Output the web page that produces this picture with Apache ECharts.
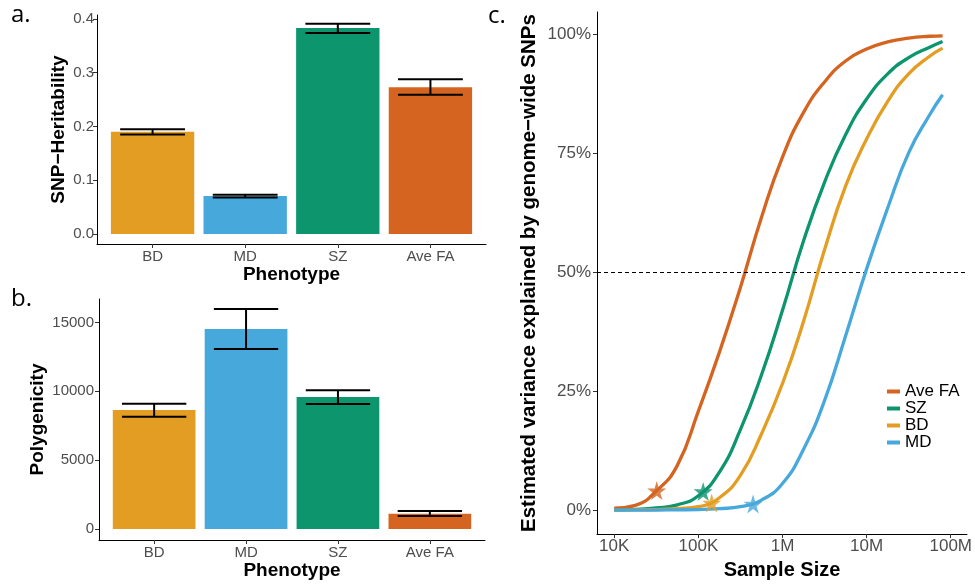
<!DOCTYPE html>
<html>
<head>
<meta charset="utf-8">
<script src="https://cdn.jsdelivr.net/npm/echarts@6/dist/echarts.min.js"></script>
<style>
html, body { margin: 0; padding: 0; background: #fff; }
#main { width: 975px; height: 585px; }
</style>
</head>
<body>
<div id="main"></div>
<script>
// panel a / b data
var phenotypes = ['BD', 'MD', 'SZ', 'Ave FA'];
var barColors = ['#E39D22', '#47A8DB', '#0D956E', '#D46420'];
var heritability = [0.190, 0.0705, 0.383, 0.273];
var heritLow = [0.185, 0.068, 0.374, 0.259];
var heritHigh = [0.195, 0.073, 0.391, 0.288];
var polygenicity = [8645, 14515, 9587, 1109];
var polyLow = [8160, 13065, 9080, 942];
var polyHigh = [9100, 15965, 10070, 1304];

// panel c data (sample size vs % variance explained)
var sampleSize = [10000, 17800, 31600, 56200, 100000, 178000, 316000, 562000, 1000000,
                  1780000, 3160000, 5620000, 10000000, 17800000, 31600000, 56200000, 80000000];
var curveNames = ['Ave FA', 'SZ', 'BD', 'MD'];
var curveColors = ['#D46420', '#0D956E', '#E39D22', '#47A8DB'];
var pctAveFA = [0.4, 1.0, 4.0, 9.4, 20.8, 33.2, 46.8, 61.5, 74.2, 83.6, 90.0, 94.4, 96.9, 98.4, 99.2, 99.6, 99.7];
var pctSZ    = [0.05, 0.15, 0.45, 1.1, 3.0, 8.0, 16.9, 28.4, 42.0, 56.6, 68.9, 78.9, 86.4, 91.7, 95.1, 97.3, 98.5];
var pctBD    = [0.0, 0.05, 0.1, 0.3, 0.7, 2.6, 7.3, 16.0, 26.6, 39.7, 54.7, 68.1, 78.0, 85.9, 91.7, 95.4, 97.1];
var pctMD    = [0.0, 0.0, 0.0, 0.05, 0.1, 0.3, 0.7, 2.1, 5.6, 12.8, 23.0, 36.6, 50.7, 63.5, 75.1, 83.1, 87.3];
var curvePct = [pctAveFA, pctSZ, pctBD, pctMD];
var starN = [32000, 114000, 144000, 447000];
var starPct = [4.1, 3.9, 1.5, 1.3];

var yTicksA = [0, 0.1, 0.2, 0.3, 0.4];
var yTicksB = [0, 5000, 10000, 15000];
var yTicksC = [0, 25, 50, 75, 100];
var xTicksC = [1e4, 1e5, 1e6, 1e7, 1e8];
var xTickLabelsC = ['10K', '100K', '1M', '10M', '100M'];
var catTicks = [0, 1, 2, 3];

var FONT = 'Liberation Sans';
var STAR = 'path://M50,0 L61,35 L98,35 L68,57 L79,91 L50,70 L21,91 L32,57 L2,35 L39,35 Z';

var myChart = echarts.init(document.getElementById('main'));

function renderBar(params, api) {
    var i = api.value(0);
    var lt = api.coord([i - 0.45, api.value(1)]);
    var rb = api.coord([i + 0.45, 0]);
    return {
        type: 'rect',
        shape: { x: lt[0], y: lt[1], width: rb[0] - lt[0], height: rb[1] - lt[1] },
        style: { fill: barColors[i] }
    };
}

function renderErr(params, api) {
    var i = api.value(0);
    var lo = api.coord([i, api.value(1)]);
    var hi = api.coord([i, api.value(2)]);
    var half = api.coord([i + 0.35, 0])[0] - lo[0];
    var st = { stroke: '#000', lineWidth: 2 };
    return {
        type: 'group',
        children: [
            { type: 'line', shape: { x1: lo[0], y1: lo[1], x2: hi[0], y2: hi[1] }, style: st },
            { type: 'line', shape: { x1: lo[0] - half, y1: lo[1], x2: lo[0] + half, y2: lo[1] }, style: st },
            { type: 'line', shape: { x1: hi[0] - half, y1: hi[1], x2: hi[0] + half, y2: hi[1] }, style: st }
        ]
    };
}

function axisCommon(ticks, fmt, fontSize, margin) {
    return {
        axisLine: { show: true, onZero: false, lineStyle: { color: '#000', width: 1 } },
        axisTick: { show: true, length: 4, customValues: ticks, lineStyle: { color: '#333' } },
        axisLabel: { customValues: ticks, formatter: fmt, color: '#4D4D4D', fontSize: fontSize, fontFamily: FONT, margin: margin },
        splitLine: { show: false }
    };
}

function titleStyle(size) {
    return { fontWeight: 'bold', fontSize: size, color: '#000', fontFamily: FONT };
}

var catFmt = function (v) { return phenotypes[Math.round(v)]; };

var xA = Object.assign({ gridIndex: 0, type: 'value', min: -0.6, max: 3.6,
    name: 'Phenotype', nameLocation: 'middle', nameGap: 19, nameTextStyle: titleStyle(19) },
    axisCommon(catTicks, catFmt, 15, 5));
var yA = Object.assign({ gridIndex: 0, type: 'value', min: -0.0186, max: 0.4074,
    name: 'SNP\u2212Heritability', nameLocation: 'middle', nameGap: 29, nameTextStyle: titleStyle(19) },
    axisCommon(yTicksA, function (v) { return v.toFixed(1); }, 15, 3));
var xB = Object.assign({ gridIndex: 1, type: 'value', min: -0.6, max: 3.6,
    name: 'Phenotype', nameLocation: 'middle', nameGap: 21, nameTextStyle: titleStyle(19) },
    axisCommon(catTicks, catFmt, 15, 5));
var yB = Object.assign({ gridIndex: 1, type: 'value', min: -797, max: 16700,
    name: 'Polygenicity', nameLocation: 'middle', nameGap: 52, nameTextStyle: titleStyle(19) },
    axisCommon(yTicksB, function (v) { return String(v); }, 15, 5));
var xC = Object.assign({ gridIndex: 2, type: 'value', min: 3.795, max: 8.193,
    name: 'Sample Size', nameLocation: 'middle', nameGap: 23, nameTextStyle: titleStyle(20) },
    axisCommon(xTicksC.map(function (n) { return Math.log10(n); }),
        function (v) { return xTickLabelsC[Math.round(v) - 4]; }, 17, 4));
var yC = Object.assign({ gridIndex: 2, type: 'value', min: -5.05, max: 104.7,
    name: 'Estimated variance explained by genome\u2212wide SNPs', nameLocation: 'middle', nameGap: 57,
    nameTextStyle: titleStyle(20.5) },
    axisCommon(yTicksC, function (v) { return v + '%'; }, 17, 6));

var series = [
    { type: 'custom', xAxisIndex: 0, yAxisIndex: 0, renderItem: renderBar, encode: { x: 0, y: 1 },
      data: heritability.map(function (v, i) { return [i, v]; }), z: 2 },
    { type: 'custom', xAxisIndex: 0, yAxisIndex: 0, renderItem: renderErr, encode: { x: 0, y: [1, 2] },
      data: heritability.map(function (v, i) { return [i, heritLow[i], heritHigh[i]]; }), z: 3 },
    { type: 'custom', xAxisIndex: 1, yAxisIndex: 1, renderItem: renderBar, encode: { x: 0, y: 1 },
      data: polygenicity.map(function (v, i) { return [i, v]; }), z: 2 },
    { type: 'custom', xAxisIndex: 1, yAxisIndex: 1, renderItem: renderErr, encode: { x: 0, y: [1, 2] },
      data: polygenicity.map(function (v, i) { return [i, polyLow[i], polyHigh[i]]; }), z: 3 }
];

curveNames.forEach(function (name, c) {
    var s = {
        name: name,
        type: 'line',
        xAxisIndex: 2,
        yAxisIndex: 2,
        data: sampleSize.map(function (n, k) { return [Math.log10(n), curvePct[c][k]]; }),
        showSymbol: false,
        symbol: 'none',
        smooth: 0.5,
        lineStyle: { width: 3.3, color: curveColors[c] },
        itemStyle: { color: curveColors[c] },
        z: 3 + c
    };
    if (c === 0) {
        s.markLine = {
            silent: true, symbol: 'none', label: { show: false },
            lineStyle: { type: [4, 3], color: '#000', width: 1 },
            data: [{ yAxis: 50 }]
        };
    }
    series.push(s);
});

series.push({
    name: 'stars',
    type: 'scatter',
    xAxisIndex: 2,
    yAxisIndex: 2,
    symbol: STAR,
    symbolSize: 19,
    z: 10,
    data: starN.map(function (n, i) {
        return { value: [Math.log10(n), starPct[i]], itemStyle: { color: curveColors[i] } };
    })
});

option = {
    backgroundColor: '#fff',
    animation: false,
    textStyle: { fontFamily: FONT },
    grid: [
        { left: 97, top: 15, width: 389, height: 229 },
        { left: 99, top: 299, width: 386, height: 241 },
        { left: 597, top: 12, width: 371, height: 530 }
    ],
    xAxis: [xA, xB, xC],
    yAxis: [yA, yB, yC],
    legend: {
        data: curveNames,
        orient: 'vertical',
        left: 882,
        top: 378,
        icon: 'rect',
        itemWidth: 13,
        itemHeight: 4,
        itemGap: 0,
        textStyle: { fontSize: 17, color: '#000', lineHeight: 17, fontFamily: FONT }
    },
    graphic: [
        { type: 'text', left: 11, top: 3, style: { text: 'a.', fontSize: 24, fontFamily: 'Open Sans', fill: '#000' } },
        { type: 'text', left: 11, top: 287, style: { text: 'b.', fontSize: 24, fontFamily: 'Open Sans', fill: '#000' } },
        { type: 'text', left: 488, top: 4, style: { text: 'c.', fontSize: 24, fontFamily: 'Open Sans', fill: '#000' } }
    ],
    series: series
};

myChart.setOption(option);
</script>
</body>
</html>
